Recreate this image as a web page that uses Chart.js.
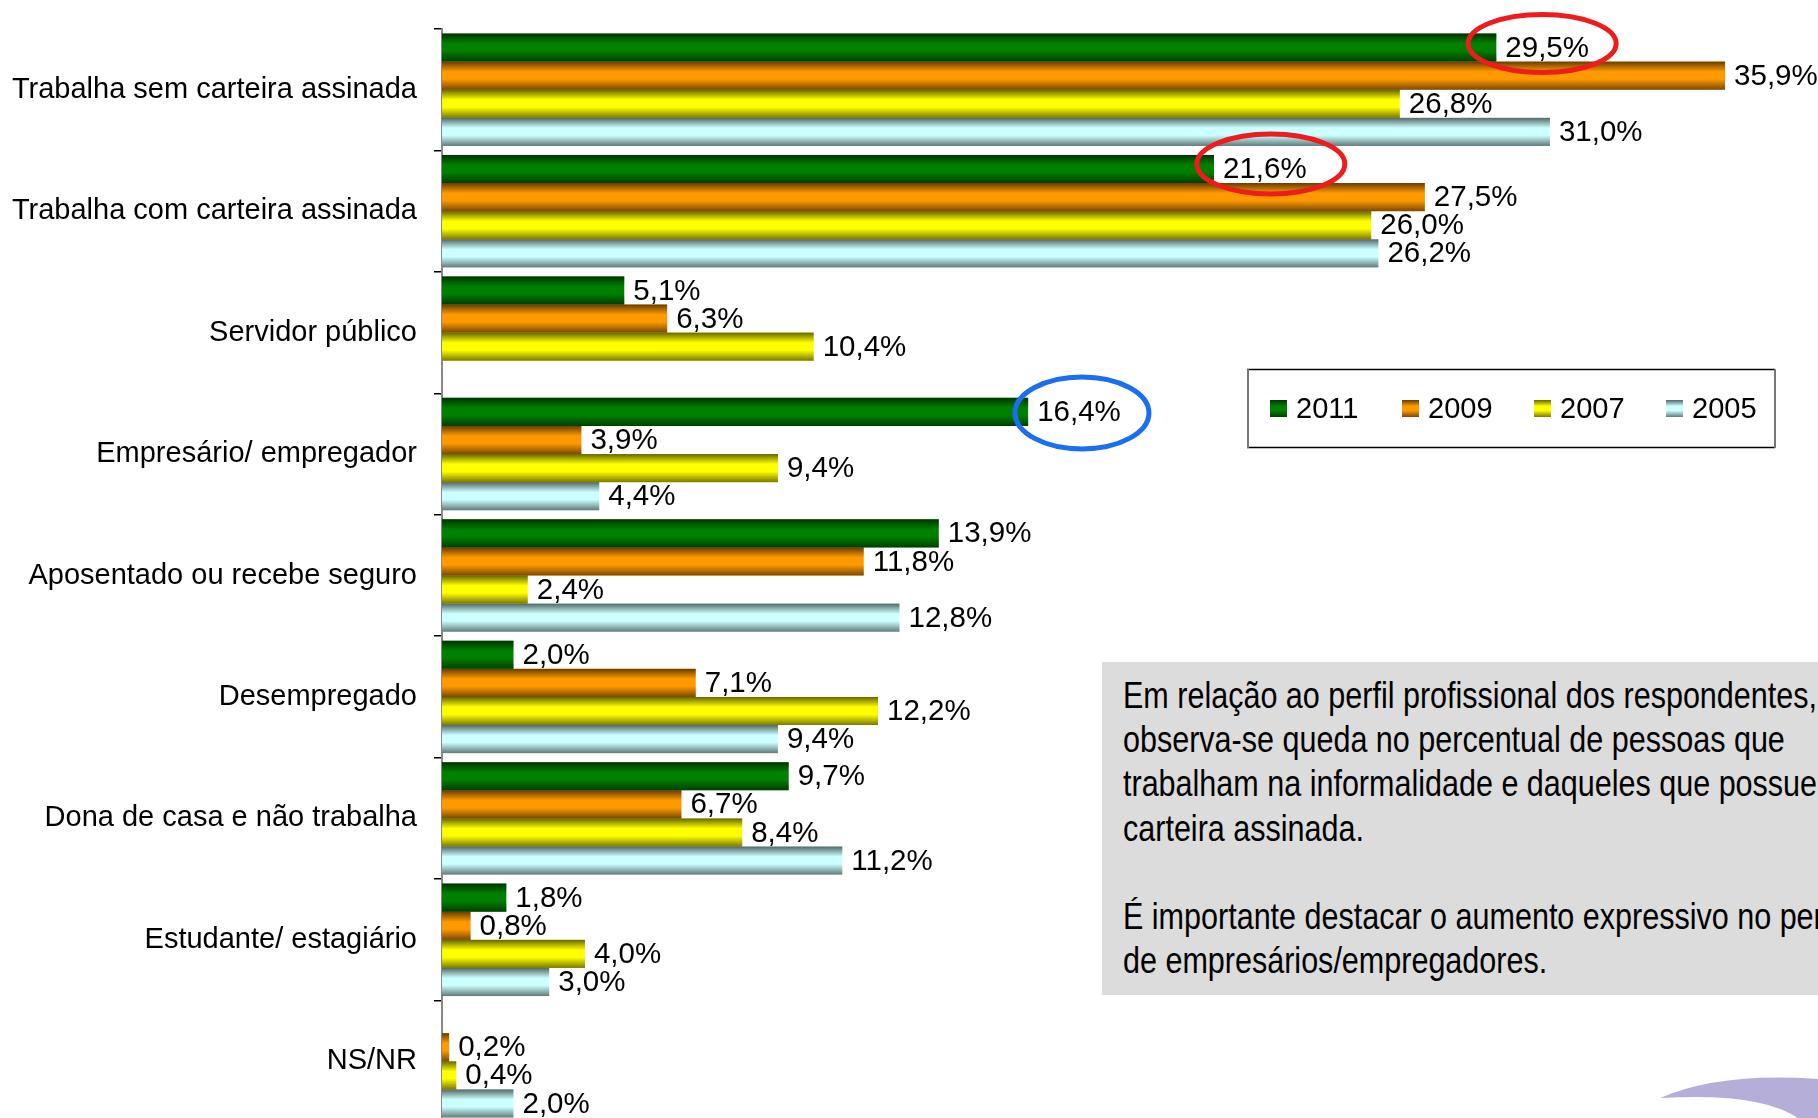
<!DOCTYPE html>
<html>
<head>
<meta charset="utf-8">
<script src="https://cdn.jsdelivr.net/npm/chart.js@4.4.0/dist/chart.umd.min.js"></script>
<style>
  html, body { margin: 0; padding: 0; overflow: hidden; background: #fff; }
  #wrap { position: relative; width: 1818px; height: 1118px; overflow: hidden; }
  #chart { position: absolute; left: 0; top: 0; }
  #note {
    position: absolute; left: 1102px; top: 662px; width: 760px; height: 333px;
    box-sizing: border-box; padding: 12px 0 0 21px; background: #dcdcdc; color: #000;
  }
  #note div {
    font-family: 'Liberation Sans', Arial, sans-serif;
    font-size: 37px; line-height: 44.2px; white-space: pre;
    transform: scaleX(0.825); transform-origin: 0 0;
  }
</style>
</head>
<body>
<div id="wrap">
<canvas id="chart" width="1818" height="1122"></canvas>
<div id="note"><div>Em relação ao perfil profissional dos respondentes,
observa-se queda no percentual de pessoas que
trabalham na informalidade e daqueles que possuem
carteira assinada.

É importante destacar o aumento expressivo no percentual
de empresários/empregadores.</div></div>
</div>
<script>
const categories = [
  'Trabalha sem carteira assinada',
  'Trabalha com carteira assinada',
  'Servidor público',
  'Empresário/ empregador',
  'Aposentado ou recebe seguro',
  'Desempregado',
  'Dona de casa e não trabalha',
  'Estudante/ estagiário',
  'NS/NR'
];
const years = ['2011', '2009', '2007', '2005'];
const values2011 = [29.5, 21.6, 5.1, 16.4, 13.9, 2.0, 9.7, 1.8, null];
const values2009 = [35.9, 27.5, 6.3, 3.9, 11.8, 7.1, 6.7, 0.8, 0.2];
const values2007 = [26.8, 26.0, 10.4, 9.4, 2.4, 12.2, 8.4, 4.0, 0.4];
const values2005 = [31.0, 26.2, null, 4.4, 12.8, 9.4, 11.2, 3.0, 2.0];

const colors = ['#008000', '#ff9900', '#ffff00', '#ccffff'];
const FONT = "'Liberation Sans', Arial, sans-serif";

// circled labels on the slide (category index, dataset index)
const highlights = [
  { cat: 0, set: 0, color: '#ee1c1c', rx: 74, ry: 29, dx: -5, dy: -4 },
  { cat: 1, set: 0, color: '#ee1c1c', rx: 74, ry: 30, dx: 6, dy: -5 },
  { cat: 3, set: 0, color: '#1a6ff0', rx: 67, ry: 36, dx: 3, dy: 1 }
];

function fmt(v) {
  return v.toFixed(1).replace('.', ',') + '%';
}

// cylinder look: darken top and bottom edge of a bar
function shade(ctx, left, top, w, h) {
  const g = ctx.createLinearGradient(0, top, 0, top + h);
  g.addColorStop(0, 'rgba(0,0,0,0.6)');
  g.addColorStop(0.36, 'rgba(0,0,0,0)');
  g.addColorStop(0.62, 'rgba(0,0,0,0)');
  g.addColorStop(1, 'rgba(0,0,0,0.52)');
  ctx.fillStyle = g;
  ctx.fillRect(left, top, w, h);
}

const decor = {
  id: 'decor',
  afterDatasetsDraw(chart) {
    const ctx = chart.ctx;
    ctx.save();

    chart.data.datasets.forEach((ds, i) => {
      chart.getDatasetMeta(i).data.forEach((bar, j) => {
        if (ds.data[j] == null) return;
        const p = bar.getProps(['x', 'y', 'base', 'height'], true);
        shade(ctx, p.base, p.y - p.height / 2, p.x - p.base, p.height);
      });
    });

    ctx.font = '29.5px ' + FONT;
    ctx.fillStyle = '#000';
    ctx.textBaseline = 'middle';
    ctx.textAlign = 'left';
    chart.data.datasets.forEach((ds, i) => {
      chart.getDatasetMeta(i).data.forEach((bar, j) => {
        if (ds.data[j] == null) return;
        ctx.fillText(fmt(ds.data[j]), bar.x + 9, bar.y + 1);
      });
    });

    // legend box
    ctx.fillStyle = '#fff';
    ctx.fillRect(1247, 369, 528, 79);
    ctx.strokeStyle = '#000';
    ctx.lineWidth = 1.5;
    ctx.beginPath();
    ctx.moveTo(1247, 369.5); ctx.lineTo(1775, 369.5);
    ctx.moveTo(1247, 447.5); ctx.lineTo(1775, 447.5);
    ctx.stroke();
    ctx.strokeStyle = '#777';
    ctx.lineWidth = 2;
    ctx.beginPath();
    ctx.moveTo(1248, 369); ctx.lineTo(1248, 448);
    ctx.moveTo(1775, 369); ctx.lineTo(1775, 448);
    ctx.stroke();
    ctx.font = '29px ' + FONT;
    chart.data.datasets.forEach((ds, i) => {
      const x = 1270 + i * 132;
      ctx.fillStyle = ds.backgroundColor;
      ctx.fillRect(x, 400, 17, 17);
      shade(ctx, x, 400, 17, 17);
      ctx.fillStyle = '#000';
      ctx.fillText(ds.label, x + 26, 410);
    });

    // ellipses around highlighted labels
    ctx.font = '29.5px ' + FONT;
    ctx.lineWidth = 5;
    highlights.forEach(h => {
      const bar = chart.getDatasetMeta(h.set).data[h.cat];
      const w = ctx.measureText(fmt(chart.data.datasets[h.set].data[h.cat])).width;
      ctx.strokeStyle = h.color;
      ctx.beginPath();
      ctx.ellipse(bar.x + 9 + w / 2 + h.dx, bar.y + h.dy, h.rx, h.ry, 0, 0, Math.PI * 2);
      ctx.stroke();
    });

    // bit of the logo in the corner
    ctx.fillStyle = '#b5aed8';
    ctx.beginPath();
    ctx.moveTo(1660, 1098);
    ctx.quadraticCurveTo(1720, 1072, 1818, 1079);
    ctx.lineTo(1818, 1118);
    ctx.lineTo(1798, 1118);
    ctx.quadraticCurveTo(1760, 1092, 1660, 1098);
    ctx.fill();

    ctx.restore();
  }
};

const series = [values2011, values2009, values2007, values2005];

new Chart(document.getElementById('chart').getContext('2d'), {
  type: 'bar',
  data: {
    labels: categories,
    datasets: series.map((vals, i) => ({
      label: years[i],
      data: vals,
      backgroundColor: colors[i],
      borderWidth: 0,
      barPercentage: 1,
      categoryPercentage: 0.926
    }))
  },
  options: {
    indexAxis: 'y',
    responsive: false,
    animation: false,
    layout: { padding: { top: 29, right: 0, bottom: 0, left: 0 } },
    plugins: {
      legend: { display: false },
      tooltip: { enabled: false }
    },
    scales: {
      x: { display: false, min: 0, max: 38.5 },
      y: {
        grid: { offset: true, drawOnChartArea: false, tickLength: 8, color: '#000', lineWidth: 1.5 },
        border: { color: '#888', width: 2 },
        ticks: { color: '#000', font: { family: FONT, size: 29 }, padding: 17, autoSkip: false },
        afterFit(scale) {
          scale.width = 442;
          scale.paddingTop = 0;
          scale.paddingBottom = 0;
        }
      }
    }
  },
  plugins: [decor]
});
</script>
</body>
</html>
